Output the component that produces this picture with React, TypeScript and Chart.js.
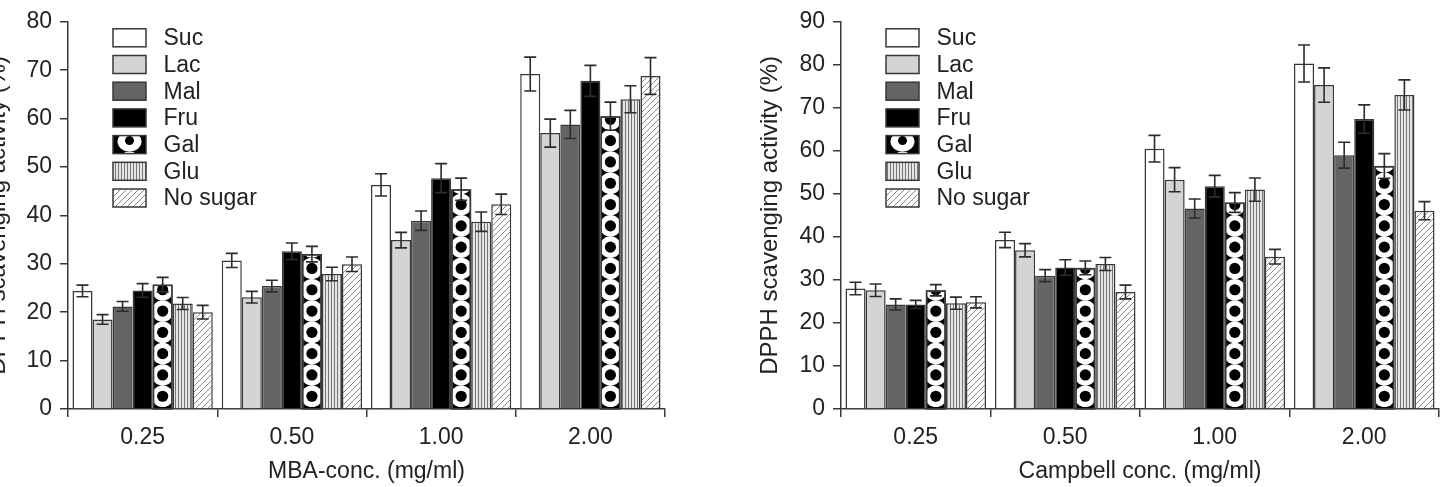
import React, { useEffect, useRef } from 'react';
import { Chart, registerables } from 'chart.js';

Chart.register(...registerables);

// ---------- data ----------
const categories = ['0.25', '0.50', '1.00', '2.00'];
const sugarNames = ['Suc', 'Lac', 'Mal', 'Fru', 'Gal', 'Glu', 'No sugar'];

// MBA extract (left panel)
const mbaSuc = [24.4, 30.7, 46.3, 69.2];
const mbaLac = [18.5, 23.1, 34.9, 57.0];
const mbaMal = [21.2, 25.4, 38.9, 58.8];
const mbaFru = [24.5, 32.6, 47.7, 67.8];
const mbaGal = [25.7, 32.0, 45.4, 60.5];
const mbaGlu = [21.8, 27.9, 38.7, 64.0];
const mbaNo = [20.0, 29.9, 42.3, 68.8];

const mbaSucErr = [1.2, 1.45, 2.3, 3.5];
const mbaLacErr = [1.0, 1.2, 1.6, 2.9];
const mbaMalErr = [1.0, 1.2, 2.0, 2.9];
const mbaFruErr = [1.4, 1.7, 3.0, 3.2];
const mbaGalErr = [1.5, 1.6, 2.3, 2.9];
const mbaGluErr = [1.25, 1.4, 2.0, 2.8];
const mbaNoErr = [1.4, 1.5, 2.1, 3.8];

// Campbell extract (right panel)
const cSuc = [28.0, 39.3, 60.5, 80.3];
const cLac = [27.6, 36.9, 53.3, 75.3];
const cMal = [24.3, 31.0, 46.6, 59.0];
const cFru = [24.3, 32.9, 51.8, 67.4];
const cGal = [27.6, 32.8, 48.0, 56.5];
const cGlu = [24.6, 33.7, 51.0, 73.0];
const cNo = [24.8, 27.2, 35.4, 46.1];

const cSucErr = [1.45, 1.8, 3.1, 4.3];
const cLacErr = [1.45, 1.55, 2.8, 4.0];
const cMalErr = [1.3, 1.4, 2.2, 3.0];
const cFruErr = [0.95, 1.8, 2.5, 3.3];
const cGalErr = [1.3, 1.6, 2.3, 2.85];
const cGluErr = [1.4, 1.5, 2.7, 3.5];
const cNoErr = [1.3, 1.6, 1.7, 2.1];

const yTitle = 'DPPH scavenging activity (%)';
const mbaXTitle = 'MBA-conc. (mg/ml)';
const cXTitle = 'Campbell conc. (mg/ml)';

// ---------- styles ----------
const FONT = "'Liberation Sans', Arial, Helvetica, sans-serif";
const INK = '#222222';
const LINE = '#383838';
const FS = 23;

Chart.defaults.font.family = FONT;

function stripePattern(ctx: CanvasRenderingContext2D) {
  const c = document.createElement('canvas');
  c.width = 3;
  c.height = 4;
  const g = c.getContext('2d')!;
  g.fillStyle = '#e6e6e6';
  g.fillRect(0, 0, 3, 4);
  g.fillStyle = '#767676';
  g.fillRect(0, 0, 1, 4);
  return ctx.createPattern(c, 'repeat')!;
}

function hatchPattern(ctx: CanvasRenderingContext2D) {
  const s = 6;
  const c = document.createElement('canvas');
  c.width = s;
  c.height = s;
  const g = c.getContext('2d')!;
  g.fillStyle = '#ffffff';
  g.fillRect(0, 0, s, s);
  g.strokeStyle = '#8a8a8a';
  g.lineWidth = 1;
  g.beginPath();
  g.moveTo(0, s);
  g.lineTo(s, 0);
  g.moveTo(-1, 1);
  g.lineTo(1, -1);
  g.moveTo(s - 1, s + 1);
  g.lineTo(s + 1, s - 1);
  g.stroke();
  return ctx.createPattern(c, 'repeat')!;
}

function drawGalPattern(ctx: CanvasRenderingContext2D, cx: number, top: number, bottom: number, left: number, right: number, anchor: number) {
  ctx.save();
  ctx.beginPath();
  ctx.rect(left, top, right - left, bottom - top);
  ctx.clip();
  ctx.fillStyle = '#000';
  ctx.fillRect(left, top, right - left, bottom - top);
  const step = 21.3;
  const R = 10.8;
  const r = 5.6;
  for (let cy = anchor; cy > top - R; cy -= step) {
    ctx.fillStyle = '#fff';
    ctx.beginPath();
    ctx.arc(cx, cy, R, 0, Math.PI * 2);
    ctx.fill();
    ctx.fillStyle = '#000';
    ctx.beginPath();
    ctx.arc(cx, cy, r, 0, Math.PI * 2);
    ctx.fill();
  }
  ctx.restore();
}

function makeDecor(errors: number[][]) {
  return {
    id: 'decor',
    afterDatasetsDraw(chart: any) {
      const ctx: CanvasRenderingContext2D = chart.ctx;
      const yScale = chart.scales.y;
      const area = chart.chartArea;

      // Gal bars: white rings with black dots on black
      const galMeta = chart.getDatasetMeta(4);
      galMeta.data.forEach((bar: any) => {
        const { x, y, base, width } = bar.getProps(['x', 'y', 'base', 'width'], true);
        const left = x - width / 2;
        const right = x + width / 2;
        drawGalPattern(ctx, x, y + 1.5, base, left + 1.5, right - 1.5, base - 12);
        ctx.save();
        ctx.strokeStyle = LINE;
        ctx.lineWidth = 1.5;
        ctx.strokeRect(left + 0.75, y + 0.75, width - 1.5, base - y);
        ctx.restore();
      });

      // error bars
      ctx.save();
      ctx.strokeStyle = '#2c2c2c';
      ctx.lineWidth = 1.6;
      chart.data.datasets.forEach((ds: any, i: number) => {
        const meta = chart.getDatasetMeta(i);
        meta.data.forEach((bar: any, j: number) => {
          const v = ds.data[j];
          const e = errors[i][j];
          const { x } = bar.getProps(['x'], true);
          const yt = yScale.getPixelForValue(v + e);
          const yb = yScale.getPixelForValue(v - e);
          const cap = 6;
          ctx.beginPath();
          ctx.moveTo(x, yt);
          ctx.lineTo(x, yb);
          ctx.moveTo(x - cap, yt);
          ctx.lineTo(x + cap, yt);
          ctx.moveTo(x - cap, yb);
          ctx.lineTo(x + cap, yb);
          ctx.stroke();
        });
      });
      ctx.restore();

      // legend
      ctx.save();
      const sx = area.left + 45;
      const sw = 33;
      const sh = 18;
      const tx = area.left + 95.5;
      chart.data.datasets.forEach((ds: any, i: number) => {
        const cy = area.top + 16 + i * 26.7;
        const top = cy - sh / 2;
        if (i === 4) {
          ctx.save();
          ctx.beginPath();
          ctx.rect(sx, top, sw, sh);
          ctx.clip();
          ctx.fillStyle = '#000';
          ctx.fillRect(sx, top, sw, sh);
          ctx.fillStyle = '#fff';
          ctx.beginPath();
          ctx.ellipse(sx + sw / 2, top + 6, 12, 10, 0, 0, Math.PI * 2);
          ctx.fill();
          ctx.beginPath();
          ctx.ellipse(sx + sw / 2, top + sh + 6, 10, 8, 0, 0, Math.PI * 2);
          ctx.fill();
          ctx.fillStyle = '#000';
          ctx.beginPath();
          ctx.arc(sx + sw / 2, top + 5, 4.5, 0, Math.PI * 2);
          ctx.fill();
          ctx.restore();
        } else {
          ctx.fillStyle = ds.backgroundColor;
          ctx.fillRect(sx, top, sw, sh);
        }
        ctx.strokeStyle = LINE;
        ctx.lineWidth = 1.5;
        ctx.strokeRect(sx, top, sw, sh);
        ctx.fillStyle = INK;
        ctx.font = `${FS}px ${FONT}`;
        ctx.textAlign = 'left';
        ctx.textBaseline = 'middle';
        ctx.fillText(ds.label, tx, cy + 1);
      });
      ctx.restore();
    },
  };
}

type PanelProps = {
  series: number[][];
  errors: number[][];
  yMax: number;
  xTitle: string;
  left: number;
  width: number;
  yWidth: number;
  padRight: number;
};

function Panel(p: PanelProps) {
  const ref = useRef<HTMLCanvasElement>(null);
  useEffect(() => {
    const canvas = ref.current!;
    const ctx = canvas.getContext('2d')!;
    const fills: any[] = ['#ffffff', '#d4d4d4', '#646464', '#000000', '#000000', stripePattern(ctx), hatchPattern(ctx)];
    const chart = new Chart(canvas, {
      type: 'bar',
      data: {
        labels: categories,
        datasets: sugarNames.map((name, i) => ({
          label: name,
          data: p.series[i],
          backgroundColor: fills[i],
          borderColor: LINE,
          borderWidth: 1.5,
          categoryPercentage: 0.94,
          barPercentage: 1,
        })),
      },
      plugins: [makeDecor(p.errors)],
      options: {
        responsive: false,
        animation: false,
        layout: { padding: { top: 15, right: p.padRight, bottom: 0, left: 0 } },
        plugins: { legend: { display: false }, tooltip: { enabled: false } },
        scales: {
          x: {
            grid: { display: true, drawOnChartArea: false, drawTicks: true, tickLength: 8, color: LINE, lineWidth: 1.5, offset: true },
            border: { display: true, color: LINE, width: 1.5 },
            ticks: { color: INK, font: { size: FS, family: FONT }, padding: 7 },
            title: { display: true, text: p.xTitle, color: INK, font: { size: FS, family: FONT }, padding: { top: 4, bottom: 2 } },
            afterFit: (s: any) => {
              s.height = 78;
            },
          },
          y: {
            min: 0,
            max: p.yMax,
            ticks: { stepSize: 10, color: INK, font: { size: FS, family: FONT }, padding: 8 },
            grid: { display: true, drawOnChartArea: false, drawTicks: true, tickLength: 8, color: LINE, lineWidth: 1.5 },
            border: { display: true, color: LINE, width: 1.5 },
            title: { display: true, text: yTitle, color: INK, font: { size: 24, family: FONT }, padding: { top: 4, bottom: 4 } },
            afterFit: (s: any) => {
              s.width = p.yWidth;
            },
          },
        },
      } as any,
    });
    return () => chart.destroy();
  }, []);
  return (
    <canvas
      ref={ref}
      width={p.width}
      height={487}
      style={{ position: 'absolute', left: p.left, top: 0, width: p.width, height: 487 }}
    />
  );
}

export default function App() {
  return (
    <div style={{ position: 'fixed', left: 0, top: 0, width: 1446, height: 487, overflow: 'hidden', background: '#fff' }}>
      <Panel
        series={[mbaSuc, mbaLac, mbaMal, mbaFru, mbaGal, mbaGlu, mbaNo]}
        errors={[mbaSucErr, mbaLacErr, mbaMalErr, mbaFruErr, mbaGalErr, mbaGluErr, mbaNoErr]}
        yMax={80}
        xTitle={mbaXTitle}
        left={-20}
        width={700}
        yWidth={88}
        padRight={15}
      />
      <Panel
        series={[cSuc, cLac, cMal, cFru, cGal, cGlu, cNo]}
        errors={[cSucErr, cLacErr, cMalErr, cFruErr, cGalErr, cGluErr, cNoErr]}
        yMax={90}
        xTitle={cXTitle}
        left={752}
        width={694}
        yWidth={89}
        padRight={7}
      />
    </div>
  );
}
